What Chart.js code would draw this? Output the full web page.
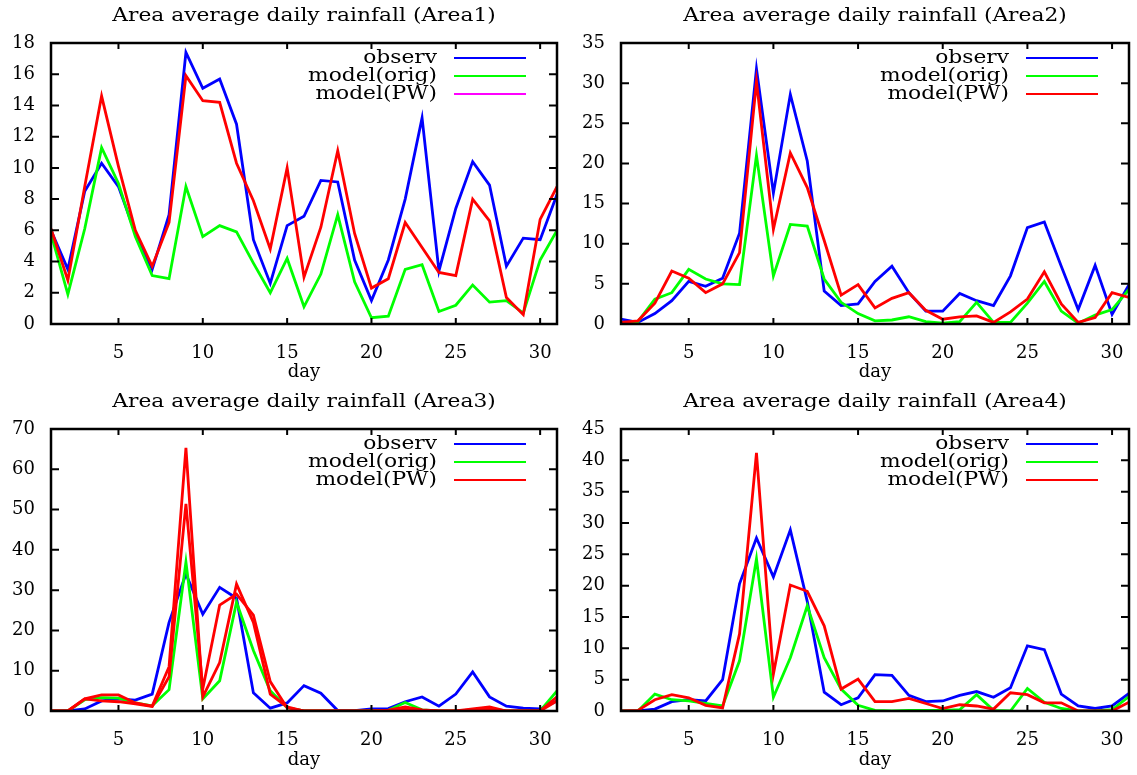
<!DOCTYPE html>
<html>
<head>
<meta charset="utf-8">
<script src="https://cdn.jsdelivr.net/npm/chart.js@4.4.0/dist/chart.umd.min.js"></script>
<style>
  body { margin: 0; background: #fff; }
  #wrap { position: relative; width: 1137px; height: 775px; }
  canvas { position: absolute; }
</style>
</head>
<body>
<div id="wrap">
  <canvas id="c1" width="570" height="385" style="left:0;top:0"></canvas>
  <canvas id="c2" width="567" height="385" style="left:570px;top:0"></canvas>
  <canvas id="c3" width="570" height="390" style="left:0;top:385px"></canvas>
  <canvas id="c4" width="567" height="390" style="left:570px;top:385px"></canvas>
</div>
<script>
const days = [1,2,3,4,5,6,7,8,9,10,11,12,13,14,15,16,17,18,19,20,21,22,23,24,25,26,27,28,29,30,31];
const xTicks = [5, 10, 15, 20, 25, 30];
const seriesNames = ['observ', 'model(orig)', 'model(PW)'];

// Area1
const area1Obs  = [6.0,3.5,8.5,10.3,8.8,5.8,3.5,7.0,17.4,15.1,15.7,12.8,5.4,2.6,6.3,6.9,9.2,9.1,4.1,1.5,4.1,8.0,13.2,3.4,7.4,10.4,8.9,3.7,5.5,5.4,8.3];
const area1Orig = [5.8,1.9,6.1,11.3,9.0,5.6,3.1,2.9,8.8,5.6,6.3,5.9,3.9,2.0,4.2,1.1,3.2,7.0,2.7,0.4,0.5,3.5,3.8,0.8,1.2,2.5,1.4,1.5,0.7,4.1,6.0];
const area1PW   = [6.1,2.8,8.8,14.6,10.1,6.0,3.7,6.5,15.9,14.3,14.2,10.3,7.9,4.8,10.0,3.0,6.2,11.1,5.8,2.3,2.9,6.5,4.9,3.3,3.1,8.0,6.6,1.7,0.6,6.7,8.8];

// Area2
const area2Obs  = [0.6,0.2,1.3,2.9,5.3,4.7,5.7,11.3,31.8,16.3,28.6,20.3,4.1,2.3,2.5,5.3,7.2,3.9,1.6,1.6,3.8,2.9,2.3,6.0,12.0,12.7,7.2,1.8,7.3,1.2,4.9];
const area2Orig = [0.1,0.3,3.1,3.9,6.8,5.6,5.0,4.9,21.0,6.0,12.4,12.2,5.6,2.7,1.3,0.4,0.5,0.9,0.3,0.1,0.3,2.7,0.2,0.2,2.6,5.3,1.6,0.1,1.1,1.8,4.3];
const area2PW   = [0.2,0.4,2.6,6.6,5.7,3.9,5.0,8.9,30.2,11.8,21.3,17.0,10.4,3.6,4.9,2.0,3.2,3.9,1.7,0.6,0.9,1.0,0.2,1.5,3.1,6.5,2.5,0.2,0.8,3.9,3.3];

// Area3
const area3Obs  = [0,0,0.5,2.5,3.0,2.7,4.2,22,34,24.0,30.7,28.0,4.5,0.7,2.0,6.3,4.4,0.1,0.1,0.5,0.6,2.3,3.5,1.2,4.2,9.7,3.5,1.2,0.7,0.5,2.5];
const area3Orig = [0,0,2.8,3.3,3.2,2.0,1.3,5.3,37,3.0,7.5,27.0,15.0,5.0,0.8,0,0,0,0,0.1,0.2,2.1,0.3,0,0,0.1,0.3,0,0,0,5.0];
const area3PW   = [0,0,3.0,4.0,4.0,2.0,1.2,11,65.3,3.5,12.0,31.5,22.0,4.2,1.0,0,0,0,0,0,0.2,1.0,0.3,0,0,0.5,1.0,0,0,0,3.5];
const area3PW2  = [0,0,3.0,2.5,2.3,1.8,1.1,8.5,51.4,5.5,26.3,29.0,23.8,7.3,0.8,0,0,0,0,0,0.1,0.6,0.2,0,0,0.3,0.6,0,0,0,2.5];

// Area4
const area4Obs  = [0,0,0.3,1.5,1.8,1.6,5.0,20.3,27.6,21.4,28.9,17.5,3.0,1.0,2.1,5.8,5.7,2.5,1.5,1.6,2.5,3.1,2.2,3.7,10.4,9.8,2.7,0.8,0.4,0.8,2.8];
const area4Orig = [0,0,2.7,1.8,1.6,1.2,0.8,8.0,24.3,2.2,8.5,16.8,8.5,3.5,0.9,0.1,0,0.1,0.1,0.1,0.2,2.6,0.1,0,3.6,1.4,0.4,0,0,0.2,2.3];
const area4PW   = [0,0.1,1.8,2.6,2.1,0.9,0.5,12.3,41.2,5.9,20.1,19.1,13.6,3.5,5.1,1.5,1.5,2.0,1.2,0.4,1.0,0.8,0.3,2.9,2.6,1.3,1.3,0,0,0,1.4];

const yMax  = [18, 35, 70, 45];
const yStep = [2, 5, 10, 5];

const serif = '"DejaVu Serif", "Liberation Serif", serif';
Chart.defaults.font.family = serif;
Chart.defaults.color = '#000';

// draw text a bit wider, like the stretched gnuplot output
function wideText(ctx, str, x, y) {
  ctx.save();
  ctx.translate(x, y);
  ctx.scale(1.21, 1);
  ctx.fillText(str, 0, 0);
  ctx.restore();
}

// gnuplot-like frame, inward mirrored ticks, title and key
const gnuplotFrame = {
  id: 'gnuplotFrame',
  afterDatasetsDraw(chart, args, opts) {
    const { ctx, chartArea: a, scales: { x, y } } = chart;
    ctx.save();
    ctx.strokeStyle = '#000';
    ctx.lineWidth = 2;
    ctx.beginPath();
    x.ticks.forEach(t => {
      const px = x.getPixelForValue(t.value);
      ctx.moveTo(px, a.bottom); ctx.lineTo(px, a.bottom - 6);
      ctx.moveTo(px, a.top); ctx.lineTo(px, a.top + 6);
    });
    y.ticks.forEach(t => {
      const py = y.getPixelForValue(t.value);
      ctx.moveTo(a.left, py); ctx.lineTo(a.left + 8, py);
      ctx.moveTo(a.right, py); ctx.lineTo(a.right - 8, py);
    });
    ctx.stroke();
    ctx.lineWidth = 2.5;
    ctx.strokeRect(a.left, a.top, a.right - a.left, a.bottom - a.top);

    // title
    ctx.fillStyle = '#000';
    ctx.font = '18px ' + serif;
    ctx.textAlign = 'center';
    ctx.textBaseline = 'middle';
    wideText(ctx, opts.title, (a.left + a.right) / 2, a.top - 27);

    // key
    ctx.textAlign = 'right';
    ctx.lineWidth = 2;
    let row = 0;
    chart.data.datasets.forEach(ds => {
      if (!ds.label) return;
      const ky = a.top + 15 + row * 18;
      wideText(ctx, ds.label, a.right - 120, ky);
      ctx.strokeStyle = ds.keyColor || ds.borderColor;
      ctx.beginPath();
      ctx.moveTo(a.right - 103, ky);
      ctx.lineTo(a.right - 31, ky);
      ctx.stroke();
      row++;
    });
    ctx.restore();
  }
};

function makeChart(id, title, idx, series, box) {
  const datasets = series.map((s, i) => ({
    label: s.label,
    data: s.data,
    borderColor: s.color,
    keyColor: s.key,
    borderWidth: 2.8,
    pointRadius: 0,
    tension: 0,
    fill: false,
    order: series.length - i
  }));
  return new Chart(document.getElementById(id), {
    type: 'line',
    data: { labels: days, datasets },
    options: {
      responsive: false,
      animation: false,
      events: [],
      layout: { padding: { top: box.top, right: box.w - box.right, bottom: 0, left: 0 } },
      scales: {
        x: {
          type: 'linear',
          min: 1,
          max: 31,
          grid: { display: false },
          border: { display: false },
          ticks: { font: { size: 18 }, padding: 11, color: '#000' },
          afterBuildTicks: s => { s.ticks = xTicks.map(v => ({ value: v })); },
          afterFit: s => { s.height = box.h - box.bottom; },
          title: { display: true, text: 'day', font: { size: 18 }, padding: { top: 0, bottom: box.dayPad } }
        },
        y: {
          min: 0,
          max: yMax[idx],
          grid: { display: false, drawTicks: false },
          border: { display: false },
          ticks: { stepSize: yStep[idx], font: { size: 18 }, padding: 16, color: '#000' },
          afterFit: s => { s.width = box.left; }
        }
      },
      plugins: {
        legend: { display: false },
        tooltip: { enabled: false },
        gnuplotFrame: { title }
      }
    },
    plugins: [gnuplotFrame]
  });
}

// pair each day with its value for the linear x axis
function pts(vals) { return days.map((d, i) => ({ x: d, y: vals[i] })); }

makeChart('c1', 'Area average daily rainfall (Area1)', 0, [
  { label: seriesNames[0], data: pts(area1Obs), color: '#0000ff' },
  { label: seriesNames[1], data: pts(area1Orig), color: '#00ff00' },
  { label: seriesNames[2], data: pts(area1PW), color: '#ff0000', key: '#ff00ff' }
], { w: 570, h: 385, left: 51, right: 557, top: 43, bottom: 324, dayPad: 2 });

makeChart('c2', 'Area average daily rainfall (Area2)', 1, [
  { label: seriesNames[0], data: pts(area2Obs), color: '#0000ff' },
  { label: seriesNames[1], data: pts(area2Orig), color: '#00ff00' },
  { label: seriesNames[2], data: pts(area2PW), color: '#ff0000' }
], { w: 567, h: 385, left: 51, right: 559, top: 43, bottom: 324, dayPad: 2 });

makeChart('c3', 'Area average daily rainfall (Area3)', 2, [
  { label: seriesNames[0], data: pts(area3Obs), color: '#0000ff' },
  { label: seriesNames[1], data: pts(area3Orig), color: '#00ff00' },
  { label: seriesNames[2], data: pts(area3PW), color: '#ff0000' },
  { label: '', data: pts(area3PW2), color: '#ff0000' }
], { w: 570, h: 390, left: 51, right: 557, top: 44, bottom: 326, dayPad: 4 });

makeChart('c4', 'Area average daily rainfall (Area4)', 3, [
  { label: seriesNames[0], data: pts(area4Obs), color: '#0000ff' },
  { label: seriesNames[1], data: pts(area4Orig), color: '#00ff00' },
  { label: seriesNames[2], data: pts(area4PW), color: '#ff0000' }
], { w: 567, h: 390, left: 51, right: 559, top: 44, bottom: 326, dayPad: 4 });
</script>
</body>
</html>
